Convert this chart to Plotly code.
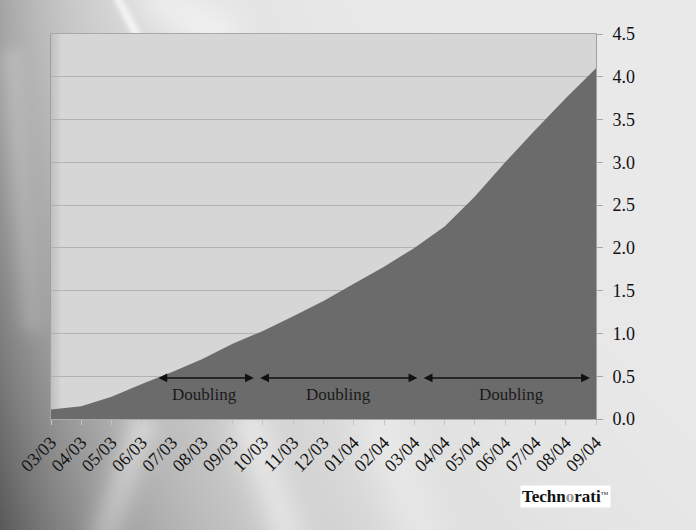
import base64
import struct
import zlib

import numpy as np
import plotly.graph_objects as go

# Monthly totals (millions), March 2003 to September 2004
months = ["03/03", "04/03", "05/03", "06/03", "07/03", "08/03", "09/03",
          "10/03", "11/03", "12/03", "01/04", "02/04", "03/04", "04/04",
          "05/04", "06/04", "07/04", "08/04", "09/04"]
totals = [0.11, 0.15, 0.26, 0.41, 0.55, 0.70, 0.88, 1.03, 1.20, 1.38,
          1.58, 1.78, 2.00, 2.25, 2.60, 3.00, 3.38, 3.75, 4.10]
y_ticks = [0.0, 0.5, 1.0, 1.5, 2.0, 2.5, 3.0, 3.5, 4.0, 4.5]
period_labels = ["Doubling", "Doubling", "Doubling"]

W, H = 696, 530
ML, MR, MT, MB = 51, 100, 34, 111
PW, PH = W - ML - MR, H - MT - MB
SERIF = "Liberation Serif, Times New Roman, serif"


def grey_png(arr):
    """Encode a 2-D uint8 array as a greyscale PNG data URI."""
    h, w = arr.shape
    raw = b"".join(b"\x00" + arr[r].tobytes() for r in range(h))

    def chunk(tag, data):
        body = tag + data
        return struct.pack(">I", len(data)) + body + struct.pack(">I", zlib.crc32(body) & 0xFFFFFFFF)

    png = (b"\x89PNG\r\n\x1a\n"
           + chunk(b"IHDR", struct.pack(">IIBBBBB", w, h, 8, 0, 0, 0, 0))
           + chunk(b"IDAT", zlib.compress(raw, 9))
           + chunk(b"IEND", b""))
    return "data:image/png;base64," + base64.b64encode(png).decode()


# Slide backdrop: darker on the left fading to pale grey, with soft light streaks
yy, xx = np.mgrid[0:H, 0:W].astype(float)
amp = 70 + 75 * (yy / H) ** 1.5
scale = 95 + 85 * (yy / H)
bg = 234 - amp * np.exp(-xx / scale)


def streak(x0, y0, x1, y1, width, amount):
    dx, dy = x1 - x0, y1 - y0
    n = np.hypot(dx, dy)
    t = np.clip(((xx - x0) * dx + (yy - y0) * dy) / (n * n), 0, 1)
    d = np.hypot(xx - (x0 + t * dx), yy - (y0 + t * dy))
    return amount * np.exp(-(d / width) ** 2)


bg += streak(118, 0, 136, 34, 5.0, 25)
bg += streak(160, 0, 210, 34, 30, 14)
bg += streak(10, 60, 30, 320, 14, 14)
bg += streak(140, 430, 105, 530, 18, 28)
bg += streak(250, 430, 285, 530, 22, 20)
bg += streak(380, 430, 420, 530, 30, 10)
bg = np.clip(bg, 0, 255).astype(np.uint8)


def px_x(px):
    return (px - ML) / PW


def px_y(py):
    return (H - MB - py) / PH


fig = go.Figure()

fig.add_trace(go.Scatter(
    x=months, y=totals, mode="lines", fill="tozeroy",
    line=dict(color="#6b6b6b", width=0), fillcolor="#6b6b6b",
    hoverinfo="x+y", showlegend=False,
))

# Double-headed arrows marking each doubling period (category-index spans)
spans = [(3.5, 6.7), (6.86, 12.1), (12.26, 17.8)]
label_pos = [5.08, 9.5, 15.2]
arrow_y = 0.48
for (a, b), cx, label in zip(spans, label_pos, period_labels):
    fig.add_annotation(
        x=b, y=arrow_y, ax=a, ay=arrow_y, xref="x", yref="y",
        axref="x", ayref="y", text="", showarrow=True,
        arrowhead=2, arrowside="end+start", arrowsize=1.1,
        arrowwidth=1.6, arrowcolor="#111111",
    )
    fig.add_annotation(
        x=cx, y=0.29, xref="x", yref="y", text=label,
        showarrow=False, font=dict(family=SERIF, size=17, color="#1a1a1a"),
    )

# Technorati wordmark
fig.add_annotation(
    x=px_x(565), y=px_y(496), xref="paper", yref="paper",
    xanchor="center", yanchor="middle",
    text="<b>Techn<span style='color:#9a9a9a'>o</span>rati</b><sup><span style='font-size:5px'>TM</span></sup>",
    showarrow=False, bgcolor="#ffffff", borderpad=1,
    font=dict(family=SERIF, size=17, color="#111111"),
)

# Plot-area fill plus a soft shadow along its left edge
shapes = [dict(type="rect", xref="x domain", yref="y domain",
               x0=0, x1=1, y0=0, y1=1, layer="below",
               fillcolor="#d6d6d6", line=dict(width=0))]
for k in range(10):
    shapes.append(dict(type="rect", xref="x domain", yref="y domain",
                       x0=k / PW, x1=(k + 1) / PW, y0=0, y1=1, layer="below",
                       fillcolor="#8a8a8a", opacity=0.28 * (1 - k / 10),
                       line=dict(width=0)))

fig.update_layout(
    width=W, height=H,
    margin=dict(l=ML, r=MR, t=MT, b=MB, pad=0),
    paper_bgcolor="#dcdcdc",
    plot_bgcolor="rgba(0,0,0,0)",
    shapes=shapes,
    images=[dict(source=grey_png(bg), xref="paper", yref="paper",
                 x=-ML / PW, y=1 + MT / PH, sizex=W / PW, sizey=H / PH,
                 xanchor="left", yanchor="top", sizing="stretch",
                 layer="below")],
    xaxis=dict(
        type="category", range=[0, len(months) - 1],
        tickangle=-45, showgrid=False, zeroline=False,
        showline=True, linecolor="#a8a8a8", linewidth=1, mirror=True,
        ticks="outside", ticklen=5, tickcolor="#c4c4c4",
        tickfont=dict(family=SERIF, size=18, color="#111111"),
    ),
    yaxis=dict(
        side="right", range=[0, 4.5], tickvals=y_ticks,
        ticktext=[f"{v:.1f}" for v in y_ticks],
        showgrid=True, gridcolor="#b2b2b2", gridwidth=1, zeroline=False,
        showline=True, linecolor="#a0a0a0", linewidth=1, mirror=True,
        ticks="outside", ticklen=6, tickcolor="#a8a8a8",
        ticklabelstandoff=6,
        tickfont=dict(family=SERIF, size=18, color="#111111"),
    ),
)

fig.write_html("out.html")
